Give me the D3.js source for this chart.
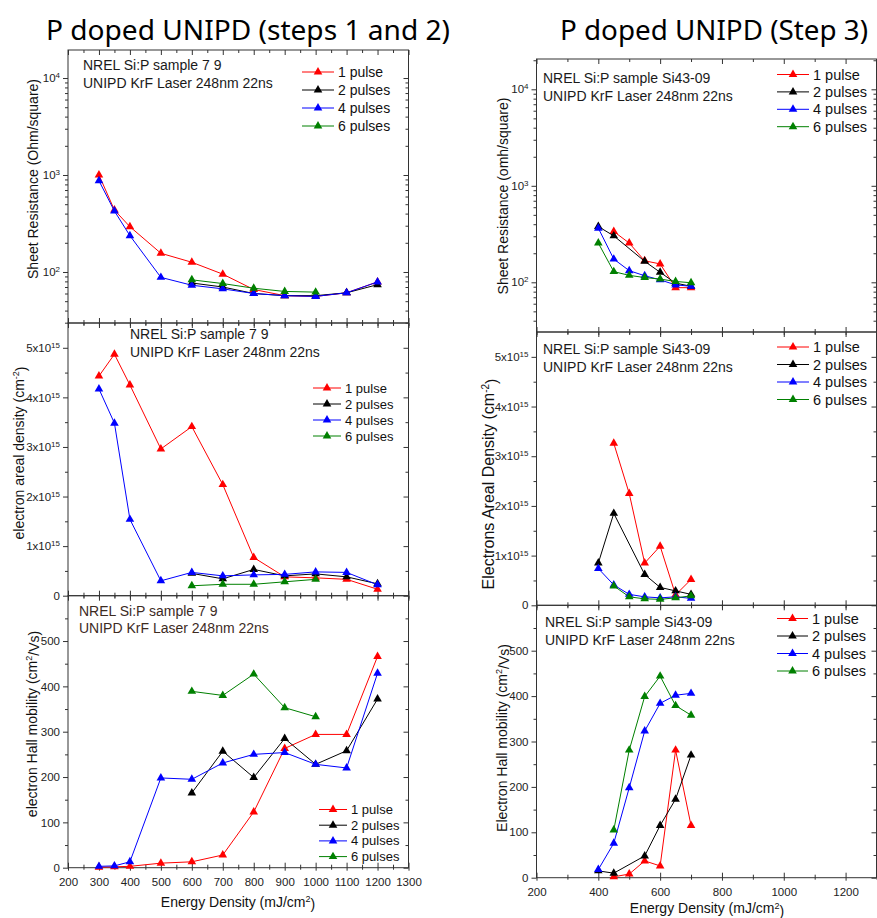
<!DOCTYPE html>
<html>
<head>
<meta charset="utf-8">
<script src="https://cdn.jsdelivr.net/npm/d3@7"></script>
<style>
body { margin: 0; background: #fff; }
text { font-family: "Liberation Sans", Arial, sans-serif; }
</style>
</head>
<body>
<svg id="chart" width="877" height="918"></svg>
<script>
// energy densities (mJ/cm2)
var eL  = [300, 350, 400, 500, 600, 700, 800, 900, 1000, 1100, 1200];
var eL2 = [600, 700, 800, 900, 1000, 1100, 1200];
var eL6 = [600, 700, 800, 900, 1000];
var eR  = [400, 450, 500, 550, 600, 650, 700];
var eR1 = [450, 500, 550, 600, 650, 700];
var eR2 = [400, 450, 550, 600, 650, 700];
var eR6 = [450, 500, 550, 600, 650, 700];

// steps 1 and 2 : sheet resistance
var rsL1 = [1000, 435, 293, 156, 126, 95, 66, 57, 56, 61, 79];
var rsL2 = [77, 70, 60, 57, 57, 61, 74];
var rsL4 = [873, 425, 237, 88, 73, 67, 60, 57, 56, 61, 79];
var rsL6 = [83, 76, 68, 63, 62];
// steps 1 and 2 : electron areal density (x1e15)
var dL1 = [4.43, 4.87, 4.25, 2.96, 3.41, 2.24, 0.77, 0.38, 0.36, 0.33, 0.13];
var dL2 = [0.45, 0.34, 0.53, 0.40, 0.44, 0.38, 0.24];
var dL4 = [4.17, 3.48, 1.54, 0.30, 0.47, 0.40, 0.42, 0.43, 0.48, 0.47, 0.22];
var dL6 = [0.20, 0.23, 0.23, 0.28, 0.33];
// steps 1 and 2 : hall mobility
var mL1 = [1, 2, 3, 10, 13, 28, 123, 263, 294, 294, 466];
var mL2 = [165, 257, 199, 285, 228, 258, 372];
var mL4 = [3, 4, 13, 198, 195, 231, 250, 254, 228, 220, 429];
var mL6 = [389, 380, 427, 353, 333];

// step 3
var rsR1 = [336, 255, 167, 155, 88, 88];
var rsR2 = [378, 303, 165, 127, 98, 91];
var rsR4 = [364, 174, 132, 117, 106, 94, 91];
var rsR6 = [255, 129, 118, 112, 108, 102, 99];
var dR1 = [3.26, 2.25, 0.85, 1.19, 0.21, 0.52];
var dR2 = [0.85, 1.85, 0.62, 0.36, 0.29, 0.22];
var dR4 = [0.74, 0.41, 0.22, 0.17, 0.15, 0.17, 0.14];
var dR6 = [0.39, 0.17, 0.13, 0.12, 0.15, 0.19];
var mR1 = [2, 8, 37, 26, 281, 115];
var mR2 = [15, 10, 48, 115, 173, 270];
var mR4 = [18, 76, 198, 323, 384, 402, 406];
var mR6 = [105, 281, 399, 444, 379, 358];

var names = ["1 pulse", "2 pulses", "4 pulses", "6 pulses"];
var colors = ["#ff0000", "#000000", "#0000ff", "#008000"];

var svg = d3.select("#chart");

function sup(sel, base, exp, fs) {
    sel.text(base);
    sel.append("tspan").attr("dy", "-0.5em").attr("font-size", fs).text(exp);
}

function panel(c) {
    var x = d3.scaleLinear().domain([200, 1300]).range([c.left, c.right]);
    var y = c.log ? d3.scaleLog().domain(c.yDom).range([c.bottom, c.top])
                  : d3.scaleLinear().domain(c.yDom).range([c.bottom, c.top]);
    var g = svg.append("g");

    // x ticks
    var xb = g.append("g").attr("transform", "translate(0," + c.bottom + ")")
        .call(d3.axisBottom(x).tickValues(c.xMajor).tickSize(5).tickPadding(5)
            .tickFormat(c.xLabels ? d3.format("d") : ""));
    xb.selectAll(".tick line").attr("y1", -5).attr("y2", 3);
    var xbm = g.append("g").attr("transform", "translate(0," + c.bottom + ")")
        .call(d3.axisBottom(x).tickValues(c.xMinor).tickSize(3).tickFormat(""));
    xbm.selectAll(".tick line").attr("y1", -3).attr("y2", 2);
    g.append("g").attr("transform", "translate(0," + c.top + ")")
        .call(d3.axisTop(x).tickValues(c.xMajor).tickSize(-5).tickFormat(""));
    g.append("g").attr("transform", "translate(0," + c.top + ")")
        .call(d3.axisTop(x).tickValues(c.xMinor).tickSize(-3).tickFormat(""));

    // y ticks
    var yl = g.append("g").attr("transform", "translate(" + c.left + ",0)")
        .call(d3.axisLeft(y).tickValues(c.yMajor).tickSize(5).tickPadding(3).tickFormat(""));
    g.append("g").attr("transform", "translate(" + c.left + ",0)")
        .call(d3.axisLeft(y).tickValues(c.yMinor).tickSize(3).tickFormat(""));
    g.append("g").attr("transform", "translate(" + c.right + ",0)")
        .call(d3.axisRight(y).tickValues(c.yMajor).tickSize(-5).tickFormat(""));
    g.append("g").attr("transform", "translate(" + c.right + ",0)")
        .call(d3.axisRight(y).tickValues(c.yMinor).tickSize(-3).tickFormat(""));
    yl.selectAll(".tick text").each(function(d) { c.yFmt(d3.select(this), d); });

    g.selectAll(".domain").remove();
    g.selectAll(".tick line").attr("stroke", "#333");
    g.selectAll("g").attr("font-size", 11.5).attr("color", "#222");

    g.append("rect").attr("x", c.left).attr("y", c.top)
        .attr("width", c.right - c.left).attr("height", c.bottom - c.top)
        .attr("fill", "none").attr("stroke", "#333").attr("stroke-width", 1);

    // series
    var line = d3.line().x(function(d) { return x(d[0]); }).y(function(d) { return y(d[1]); });
    var tri = d3.symbol().type(d3.symbolTriangle).size(32);
    c.series.forEach(function(s, i) {
        var pts = d3.zip(s[0], s[1]);
        g.append("path").datum(pts).attr("d", line)
            .attr("fill", "none").attr("stroke", colors[i]).attr("stroke-width", 1);
        g.selectAll(null).data(pts).enter().append("path")
            .attr("d", tri)
            .attr("transform", function(d) { return "translate(" + x(d[0]) + "," + y(d[1]) + ")"; })
            .attr("fill", colors[i]);
    });

    // legend
    var lg = c.legend;
    names.forEach(function(n, i) {
        var ly = lg.y + i * lg.dy;
        g.append("line").attr("x1", lg.x).attr("x2", lg.x + lg.w).attr("y1", ly).attr("y2", ly)
            .attr("stroke", colors[i]).attr("stroke-width", 1);
        g.append("path").attr("d", tri).attr("fill", colors[i])
            .attr("transform", "translate(" + (lg.x + lg.w / 2) + "," + ly + ")");
        g.append("text").attr("x", lg.x + lg.w + 4).attr("y", ly).attr("dy", "0.35em")
            .attr("font-size", lg.fs).attr("fill", "#111").text(n);
    });

    // annotation
    c.note.lines.forEach(function(t, i) {
        g.append("text").attr("x", c.note.x).attr("y", c.note.y + i * c.note.dy)
            .attr("font-size", 14).attr("fill", c.note.color || "#1a1a1a").text(t);
    });

    // y title
    var yt = g.append("text")
        .attr("transform", "translate(" + c.yt.x + "," + c.yt.y + ") rotate(-90)")
        .attr("text-anchor", "middle").attr("dy", "0.35em")
        .attr("font-size", c.yt.fs).attr("fill", "#111");
    c.yt.make(yt);

    if (c.xTitle) {
        var xt = g.append("text").attr("x", c.xTitle.x).attr("y", c.xTitle.y)
            .attr("text-anchor", "middle").attr("font-size", 14).attr("fill", "#111");
        xt.text("Energy Density (mJ/cm");
        xt.append("tspan").attr("dy", "-0.5em").attr("font-size", 9).text("2");
        xt.append("tspan").attr("dy", "0.5em").text(")");
    }
}

function logFmt(t, d) { sup(t, "10", String(Math.round(Math.log10(d))), 8); }
function denFmt(t, d) { if (d === 0) t.text("0"); else sup(t, d + "x10", "15", 8); }
function linFmt(t, d) { t.text(d); }

function logMinor(lo, hi) {
    var v = [];
    [10, 100, 1000, 10000].forEach(function(b) {
        for (var k = 2; k <= 9; k++) if (b * k > lo && b * k < hi) v.push(b * k);
    });
    return v;
}

var xMajL = d3.range(200, 1301, 100), xMinL = d3.range(250, 1300, 100);
var xMajR = d3.range(200, 1201, 200), xMinR = d3.range(300, 1301, 200);
var denMaj = [0, 1, 2, 3, 4, 5], denMin = [0.5, 1.5, 2.5, 3.5, 4.5];
var mobMaj = [0, 100, 200, 300, 400, 500], mobMin = [50, 150, 250, 350, 450, 550];

var notesL = ["NREL Si:P sample 7 9", "UNIPD KrF Laser 248nm 22ns"];
var notesR = ["NREL Si:P sample Si43-09", "UNIPD KrF Laser 248nm 22ns"];

var lrsDom = [Math.pow(10, 1.474), Math.pow(10, 4.289)];
var rrsDom = [Math.pow(10, 1.485), Math.pow(10, 4.314)];

// left column
panel({ left: 68, right: 408.5, top: 50, bottom: 323, log: true, yDom: lrsDom,
    xMajor: xMajL, xMinor: xMinL, xLabels: false,
    yMajor: [100, 1000, 10000], yMinor: logMinor(lrsDom[0], lrsDom[1]), yFmt: logFmt,
    series: [[eL, rsL1], [eL2, rsL2], [eL, rsL4], [eL6, rsL6]],
    legend: { x: 302, y: 72, dy: 18, w: 32, fs: 14 },
    note: { x: 83, y: 70, dy: 18, lines: notesL },
    yt: { x: 33, y: 179, fs: 14, make: function(t) { t.text("Sheet Resistance (Ohm/square)"); } } });

panel({ left: 68, right: 408.5, top: 323, bottom: 595.7, log: false, yDom: [0, 5.5],
    xMajor: xMajL, xMinor: xMinL, xLabels: false,
    yMajor: denMaj, yMinor: denMin, yFmt: denFmt,
    series: [[eL, dL1], [eL2, dL2], [eL, dL4], [eL6, dL6]],
    legend: { x: 313, y: 388, dy: 16, w: 28, fs: 13 },
    note: { x: 130, y: 339, dy: 18, lines: notesL },
    yt: { x: 19, y: 453, fs: 14, make: function(t) {
        t.text("electron areal density (cm");
        t.append("tspan").attr("dy", "-0.5em").attr("font-size", 9).text("-2");
        t.append("tspan").attr("dy", "0.5em").text(")"); } } });

panel({ left: 68, right: 408.5, top: 595.7, bottom: 867.7, log: false, yDom: [0, 600],
    xMajor: xMajL, xMinor: xMinL, xLabels: true,
    yMajor: mobMaj, yMinor: mobMin, yFmt: linFmt,
    series: [[eL, mL1], [eL2, mL2], [eL, mL4], [eL6, mL6]],
    legend: { x: 319, y: 809.5, dy: 15.7, w: 28, fs: 13 },
    note: { x: 79, y: 616, dy: 17, lines: notesL, color: "#3d2b1f" },
    yt: { x: 32, y: 724, fs: 14, make: function(t) {
        t.text("electron Hall mobility (cm");
        t.append("tspan").attr("dy", "-0.5em").attr("font-size", 9).text("2");
        t.append("tspan").attr("dy", "0.5em").text("/Vs)"); } },
    xTitle: { x: 238, y: 906.5 } });

// right column
panel({ left: 536.5, right: 876.5, top: 59, bottom: 332, log: true, yDom: rrsDom,
    xMajor: xMajR, xMinor: xMinR, xLabels: false,
    yMajor: [100, 1000, 10000], yMinor: logMinor(rrsDom[0], rrsDom[1]), yFmt: logFmt,
    series: [[eR1, rsR1], [eR2, rsR2], [eR, rsR4], [eR, rsR6]],
    legend: { x: 777, y: 74.5, dy: 17.4, w: 32, fs: 14.5 },
    note: { x: 543, y: 83, dy: 18, lines: notesR },
    yt: { x: 503, y: 196, fs: 14, make: function(t) { t.text("Sheet Resistance (omh/square)"); } } });

panel({ left: 536.5, right: 876.5, top: 332, bottom: 605.3, log: false, yDom: [0, 5.5],
    xMajor: xMajR, xMinor: xMinR, xLabels: false,
    yMajor: denMaj, yMinor: denMin, yFmt: denFmt,
    series: [[eR1, dR1], [eR2, dR2], [eR, dR4], [eR6, dR6]],
    legend: { x: 777, y: 347, dy: 17.5, w: 32, fs: 14.5 },
    note: { x: 543, y: 354, dy: 17.7, lines: notesR },
    yt: { x: 488, y: 484, fs: 16, make: function(t) {
        t.text("Electrons Areal Density (cm");
        t.append("tspan").attr("dy", "-0.5em").attr("font-size", 10).text("-2");
        t.append("tspan").attr("dy", "0.5em").text(")"); } } });

panel({ left: 536.5, right: 876.5, top: 605.3, bottom: 877.7, log: false, yDom: [0, 600],
    xMajor: xMajR, xMinor: xMinR, xLabels: true,
    yMajor: mobMaj, yMinor: mobMin, yFmt: linFmt,
    series: [[eR1, mR1], [eR2, mR2], [eR, mR4], [eR6, mR6]],
    legend: { x: 777, y: 618.5, dy: 17.5, w: 31, fs: 14.5 },
    note: { x: 545, y: 627, dy: 17.6, lines: notesR },
    yt: { x: 502, y: 738, fs: 14, make: function(t) {
        t.text("Electron Hall mobility (cm");
        t.append("tspan").attr("dy", "-0.5em").attr("font-size", 9).text("2");
        t.append("tspan").attr("dy", "0.5em").text("/Vs)"); } },
    xTitle: { x: 707, y: 913 } });

// column titles
svg.append("text").attr("x", 46).attr("y", 40).attr("font-size", 28)
    .style("font-family", "'Noto Sans', 'Open Sans', sans-serif")
    .attr("textLength", 404).attr("lengthAdjust", "spacingAndGlyphs").attr("fill", "#000")
    .text("P doped UNIPD (steps 1 and 2)");
svg.append("text").attr("x", 560).attr("y", 40).attr("font-size", 28)
    .style("font-family", "'Noto Sans', 'Open Sans', sans-serif")
    .attr("textLength", 308).attr("lengthAdjust", "spacingAndGlyphs").attr("fill", "#000")
    .text("P doped UNIPD (Step 3)");
</script>
</body>
</html>
